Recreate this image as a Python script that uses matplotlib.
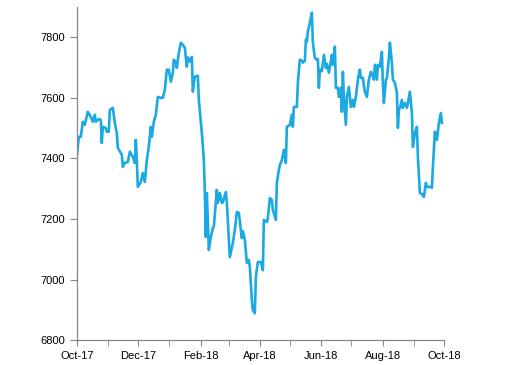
import pandas as pd
import matplotlib.pyplot as plt
import matplotlib.dates as mdates

plt.rcParams['font.family'] = ['Liberation Sans', 'DejaVu Sans']

# day offsets from 1 Oct 2017 and index level
days = [0, 2, 4, 6, 8, 11, 14, 16, 18, 19, 22, 24, 25, 26, 29, 30, 32, 33, 36, 38,
        40, 41, 44, 45, 46, 48, 51, 53, 56, 58, 59, 60, 61, 64, 66, 68, 70, 72, 74, 75,
        77, 79, 81, 84, 86, 88, 90, 92, 94, 96, 97, 99, 100, 102, 104, 106, 108, 110, 111, 113,
        115, 116, 118, 121, 122, 125, 127, 128, 129, 130, 132, 134, 136, 137, 140, 141, 143, 145, 146, 149,
        150, 153, 156, 158, 160, 162, 165, 166, 168, 170, 172, 173, 175, 176, 178, 179, 181, 184, 186, 187,
        190, 191, 193, 195, 196, 199, 200, 202, 203, 205, 206, 207, 209, 210, 213, 215, 216, 217, 220, 221,
        223, 225, 226, 228, 229, 230, 231, 233, 235, 236, 238, 240, 241, 242, 243, 245, 247, 249, 250, 252,
        254, 255, 256, 258, 259, 261, 262, 264, 265, 266, 267, 269, 270, 272, 274, 276, 277, 279, 281, 283,
        284, 286, 287, 288, 290, 292, 294, 296, 297, 298, 300, 301, 303, 305, 306, 307, 309, 310, 312, 313,
        315, 316, 318, 320, 321, 322, 323, 325, 326, 328, 330, 331, 333, 335, 336, 338, 340, 341, 343, 346,
        347, 349, 350, 353, 355, 356, 358, 360, 362, 364, 365]
values = [7405, 7471, 7471, 7521, 7511, 7554, 7537, 7521, 7544, 7521, 7530, 7527, 7451, 7504, 7500, 7488, 7488, 7560, 7567, 7517,
          7484, 7435, 7418, 7412, 7372, 7385, 7388, 7422, 7405, 7385, 7461, 7395, 7306, 7322, 7352, 7322, 7395, 7438, 7504, 7471,
          7521, 7544, 7603, 7600, 7600, 7626, 7693, 7693, 7653, 7683, 7726, 7716, 7699, 7749, 7782, 7775, 7765, 7703, 7733, 7720,
          7735, 7620, 7670, 7673, 7593, 7484, 7395, 7286, 7141, 7286, 7098, 7141, 7170, 7175, 7296, 7253, 7286, 7253, 7255, 7289,
          7253, 7074, 7121, 7164, 7223, 7220, 7137, 7160, 7131, 7055, 7065, 7042, 6932, 6899, 6889, 7008, 7058, 7058, 7031, 7197,
          7190, 7203, 7269, 7263, 7230, 7197, 7319, 7362, 7378, 7395, 7412, 7428, 7385, 7504, 7511, 7544, 7505, 7570, 7570, 7650,
          7726, 7722, 7716, 7722, 7792, 7785, 7818, 7848, 7881, 7782, 7732, 7725, 7728, 7633, 7693, 7688, 7742, 7699, 7712, 7683,
          7720, 7742, 7709, 7769, 7633, 7633, 7603, 7633, 7554, 7686, 7600, 7511, 7603, 7636, 7570, 7593, 7570, 7603, 7660, 7693,
          7666, 7666, 7640, 7620, 7603, 7660, 7686, 7670, 7660, 7709, 7660, 7709, 7703, 7752, 7643, 7583, 7660, 7665, 7732, 7782,
          7716, 7660, 7650, 7617, 7501, 7560, 7567, 7593, 7567, 7583, 7567, 7583, 7620, 7550, 7438, 7484, 7504, 7405, 7286, 7280,
          7273, 7319, 7306, 7306, 7303, 7372, 7488, 7461, 7517, 7550, 7517]

dates = pd.Timestamp('2017-10-01') + pd.to_timedelta([d * 365 / 367 for d in days], unit='D')

fig = plt.figure(figsize=(5.12, 3.65), dpi=100)
ax = fig.add_axes([0.150, 0.068, 0.717, 0.913])

ax.plot(dates, values, color='#1aa9e1', lw=1.9)

ax.set_ylim(6800, 7900)
ax.set_yticks([6800, 7000, 7200, 7400, 7600, 7800])
ax.set_xlim(pd.Timestamp('2017-10-01'), pd.Timestamp('2018-10-01'))
ax.xaxis.set_major_locator(mdates.MonthLocator(bymonth=[2, 4, 6, 8, 10, 12]))
ax.xaxis.set_major_formatter(mdates.DateFormatter('%b-%y'))
ax.xaxis.set_minor_locator(mdates.MonthLocator())

for s in ['top', 'right']:
    ax.spines[s].set_visible(False)
for s in ['left', 'bottom']:
    ax.spines[s].set_color('#888888')
    ax.spines[s].set_linewidth(0.9)
ax.tick_params(axis='both', which='both', colors='#888888', labelcolor='black', labelsize=8)
ax.tick_params(axis='x', which='both', length=4)
ax.tick_params(axis='y', length=5)

fig.savefig('out.png', dpi=100)
